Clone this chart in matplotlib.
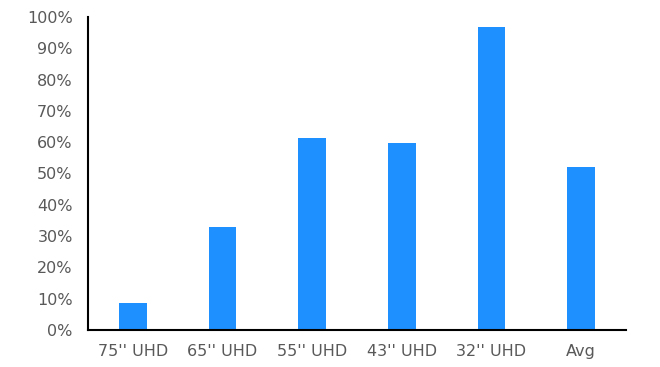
import matplotlib
matplotlib.use("Agg")
import matplotlib.pyplot as plt
from matplotlib.ticker import PercentFormatter

categories = ["75'' UHD", "65'' UHD", "55'' UHD", "43'' UHD", "32'' UHD", "Avg"]
values = [8.5, 33.0, 61.2, 59.8, 96.8, 52.2]
yticks = list(range(0, 101, 10))

plt.rcParams['font.family'] = ['DejaVu Sans']

fig = plt.figure(figsize=(6.6, 3.67), dpi=100)
ax = fig.add_axes([0.1333, 0.1008, 0.8152, 0.8529])

ax.bar(range(len(categories)), values, width=0.31, color='#1E90FF')

ax.set_xlim(-0.5, len(categories) - 0.5)
ax.set_ylim(0, 100)
ax.set_yticks(yticks)
ax.yaxis.set_major_formatter(PercentFormatter(decimals=0))
ax.set_xticks(range(len(categories)))
ax.set_xticklabels(categories)

for s in ['top', 'right']:
    ax.spines[s].set_visible(False)
for s in ['left', 'bottom']:
    ax.spines[s].set_linewidth(1.5)
    ax.spines[s].set_color('black')

ax.tick_params(axis='both', length=0, labelsize=11.5, colors='#595959')
ax.tick_params(axis='x', pad=10)
ax.tick_params(axis='y', pad=11)

fig.savefig("out.png", dpi=100)
